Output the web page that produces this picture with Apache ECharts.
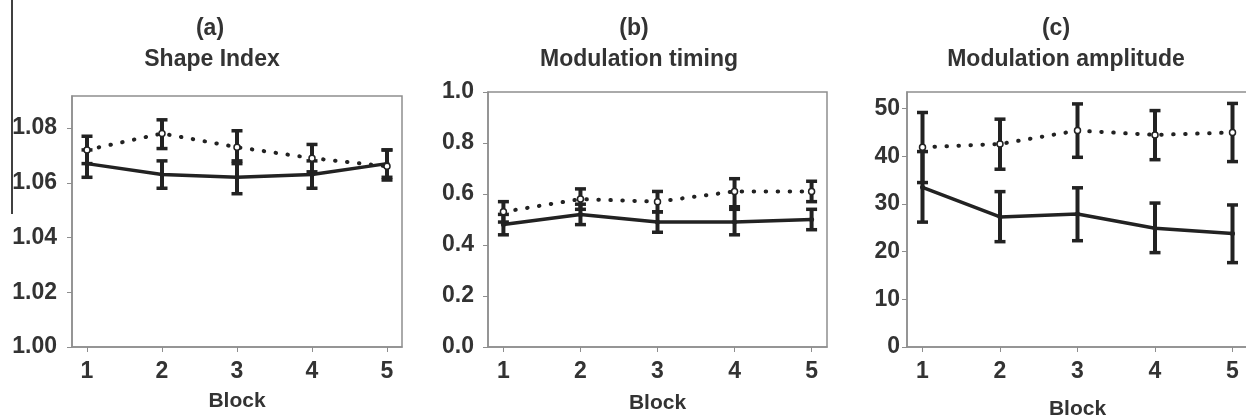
<!DOCTYPE html>
<html>
<head>
<meta charset="utf-8">
<script src="https://cdn.jsdelivr.net/npm/echarts@6/dist/echarts.min.js"></script>
<style>
  html, body { margin: 0; padding: 0; background: #fff; }
  #chart { width: 1246px; height: 417px; }
</style>
</head>
<body>
<div id="chart"></div>
<script>
const blocks = [1, 2, 3, 4, 5]

// (a) Shape Index
const shapeSolid = [1.067, 1.063, 1.062, 1.063, 1.067]
const shapeSolidLow = [1.062, 1.058, 1.056, 1.058, 1.062]
const shapeSolidHigh = [1.072, 1.068, 1.068, 1.068, 1.072]
const shapeDotted = [1.072, 1.078, 1.073, 1.069, 1.066]
const shapeDottedLow = [1.067, 1.0725, 1.067, 1.064, 1.061]
const shapeDottedHigh = [1.077, 1.083, 1.079, 1.074, 1.072]
const shapeTicks = [1.00, 1.02, 1.04, 1.06, 1.08]

// (b) Modulation timing
const timingSolid = [0.48, 0.52, 0.49, 0.49, 0.50]
const timingSolidLow = [0.44, 0.48, 0.45, 0.44, 0.46]
const timingSolidHigh = [0.52, 0.56, 0.53, 0.54, 0.54]
const timingDotted = [0.53, 0.58, 0.57, 0.61, 0.61]
const timingDottedLow = [0.49, 0.54, 0.53, 0.55, 0.57]
const timingDottedHigh = [0.57, 0.62, 0.61, 0.66, 0.65]
const timingTicks = [0.0, 0.2, 0.4, 0.6, 0.8, 1.0]

// (c) Modulation amplitude
const ampSolid = [33.5, 27.3, 27.9, 24.9, 23.8]
const ampSolidLow = [26.2, 22.1, 22.3, 19.8, 17.7]
const ampSolidHigh = [41.0, 32.6, 33.4, 30.2, 29.8]
const ampDotted = [41.9, 42.6, 45.4, 44.5, 45.0]
const ampDottedLow = [34.5, 37.3, 39.8, 39.3, 38.9]
const ampDottedHigh = [49.2, 47.8, 51.0, 49.6, 51.1]
const ampTicks = [0, 10, 20, 30, 40, 50]

const ink = '#222'
const frame = '#8e8e8e'
const textColor = '#333'
const font = 'Liberation Sans, Arial, sans-serif'

function pairs(vals) {
  return blocks.map((b, i) => [b, vals[i]])
}

function errorBars(idx, low, high) {
  return {
    type: 'custom',
    xAxisIndex: idx,
    yAxisIndex: idx,
    z: 3,
    silent: true,
    encode: { x: 0, y: [1, 2] },
    data: blocks.map((b, i) => [b, low[i], high[i]]),
    renderItem(params, api) {
      const top = api.coord([api.value(0), api.value(2)])
      const bottom = api.coord([api.value(0), api.value(1)])
      const w = 5.5
      return {
        type: 'group',
        children: [
          { type: 'line', shape: { x1: top[0], y1: top[1], x2: bottom[0], y2: bottom[1] }, style: { stroke: ink, lineWidth: 4 } },
          { type: 'line', shape: { x1: top[0] - w, y1: top[1], x2: top[0] + w, y2: top[1] }, style: { stroke: ink, lineWidth: 3.5 } },
          { type: 'line', shape: { x1: bottom[0] - w, y1: bottom[1], x2: bottom[0] + w, y2: bottom[1] }, style: { stroke: ink, lineWidth: 3.5 } }
        ]
      }
    }
  }
}

function solidLine(idx, vals) {
  return {
    type: 'line',
    xAxisIndex: idx,
    yAxisIndex: idx,
    z: 4,
    data: pairs(vals),
    symbol: 'circle',
    symbolSize: 5,
    itemStyle: { color: ink },
    lineStyle: { color: ink, width: 3.5 }
  }
}

function dottedLine(idx, vals) {
  return {
    type: 'line',
    xAxisIndex: idx,
    yAxisIndex: idx,
    z: 5,
    data: pairs(vals),
    symbol: 'circle',
    symbolSize: 6,
    itemStyle: { color: '#fff', borderColor: ink, borderWidth: 1.5 },
    lineStyle: { color: ink, width: 4, type: [0.5, 11.5], cap: 'round' }
  }
}

function xAxis(idx, nameGap) {
  return {
    type: 'value',
    gridIndex: idx,
    min: 0.8,
    max: 5.2,
    name: 'Block',
    nameLocation: 'middle',
    nameGap: nameGap,
    nameTextStyle: { color: textColor, fontSize: 21, fontWeight: 'bold', fontFamily: font },
    axisLine: { show: true, lineStyle: { color: frame, width: 1.5 } },
    axisTick: { show: true, length: 5, customValues: blocks, lineStyle: { color: frame } },
    axisLabel: { customValues: blocks, margin: 13, color: textColor, fontSize: 23, fontWeight: 'bold', fontFamily: font },
    splitLine: { show: false }
  }
}

function yAxis(idx, min, max, ticks, digits, margin) {
  return {
    type: 'value',
    gridIndex: idx,
    min: min,
    max: max,
    axisLine: { show: true, lineStyle: { color: frame, width: 1.5 } },
    axisTick: { show: true, length: 5, customValues: ticks, lineStyle: { color: frame } },
    axisLabel: {
      customValues: ticks,
      margin: margin,
      color: textColor,
      fontSize: 23,
      fontWeight: 'bold',
      fontFamily: font,
      formatter: v => v.toFixed(digits)
    },
    splitLine: { show: false }
  }
}

function title(x, y, text) {
  return {
    type: 'text',
    x: x,
    y: y,
    style: {
      text: text,
      fill: textColor,
      font: 'bold 23px ' + font,
      align: 'center',
      verticalAlign: 'middle'
    }
  }
}

function grid(left, right, top) {
  return {
    left: left,
    right: right,
    top: top,
    bottom: 70,
    show: true,
    borderColor: frame,
    borderWidth: 1.5,
    containLabel: false,
    outerBoundsMode: 'none'
  }
}

const chart = echarts.init(document.getElementById('chart'))
chart.setOption({
  backgroundColor: '#fff',
  animation: false,
  grid: [grid(72, 844, 96), grid(488, 419, 92), grid(907, -2, 92)],
  xAxis: [xAxis(0, 44), xAxis(1, 46), xAxis(2, 52)],
  yAxis: [
    yAxis(0, 1.0, 1.0917, shapeTicks, 2, 15),
    yAxis(1, 0, 1.0, timingTicks, 1, 14),
    yAxis(2, 0, 53.5, ampTicks, 0, 7)
  ],
  graphic: [
    { type: 'line', shape: { x1: 12, y1: 0, x2: 12, y2: 214 }, style: { stroke: '#000', lineWidth: 1.5 } },
    title(210, 29, '(a)'),
    title(212, 60, 'Shape Index'),
    title(634, 29, '(b)'),
    title(639, 60, 'Modulation timing'),
    title(1056, 29, '(c)'),
    title(1066, 60, 'Modulation amplitude')
  ],
  series: [
    errorBars(0, shapeSolidLow, shapeSolidHigh),
    errorBars(0, shapeDottedLow, shapeDottedHigh),
    solidLine(0, shapeSolid),
    dottedLine(0, shapeDotted),
    errorBars(1, timingSolidLow, timingSolidHigh),
    errorBars(1, timingDottedLow, timingDottedHigh),
    solidLine(1, timingSolid),
    dottedLine(1, timingDotted),
    errorBars(2, ampSolidLow, ampSolidHigh),
    errorBars(2, ampDottedLow, ampDottedHigh),
    solidLine(2, ampSolid),
    dottedLine(2, ampDotted)
  ]
})
</script>
</body>
</html>
